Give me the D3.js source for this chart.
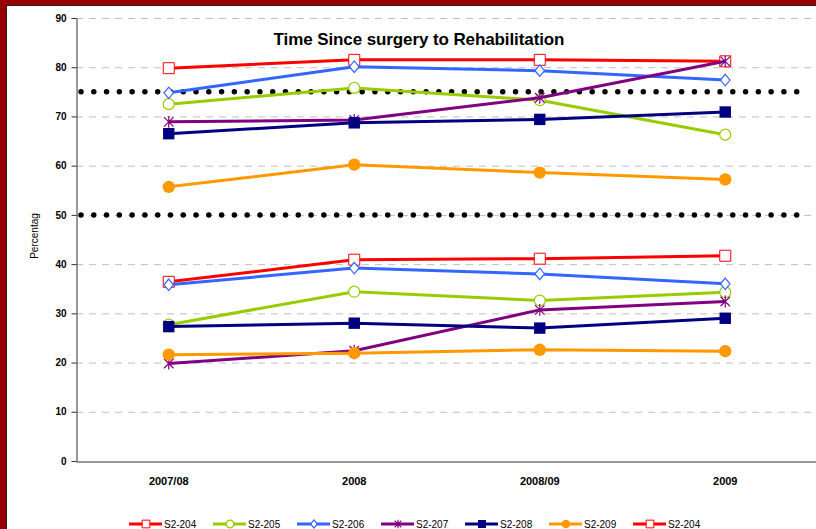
<!DOCTYPE html>
<html>
<head>
<meta charset="utf-8">
<script src="https://cdn.jsdelivr.net/npm/d3@7"></script>
<style>
  body { margin: 0; background: #fff; }
  svg { display: block; font-family: "Liberation Sans", Arial, sans-serif; }
</style>
</head>
<body>
<div id="vis"></div>
<script>
// chart values
var categories = ["2007/08", "2008", "2008/09", "2009"];
var seriesNames = ["S2-204", "S2-205", "S2-206", "S2-207", "S2-208", "S2-209"];
var seriesColors = ["#ff0000", "#99cc00", "#3366ff", "#800080", "#000080", "#ff9900"];
var seriesMarkers = ["openSquare", "openCircle", "openDiamond", "star", "square", "circle"];

// upper group
var upper204 = [79.8, 81.5, 81.5, 81.2];
var upper205 = [72.5, 75.8, 73.3, 66.3];
var upper206 = [74.8, 80.1, 79.3, 77.4];
var upper207 = [68.9, 69.3, 73.8, 81.2];
var upper208 = [66.5, 68.7, 69.4, 70.9];
var upper209 = [55.7, 60.2, 58.6, 57.2];

// lower group
var lower204 = [36.4, 40.9, 41.1, 41.7];
var lower205 = [27.7, 34.4, 32.6, 34.3];
var lower206 = [35.8, 39.2, 38.0, 36.0];
var lower207 = [19.8, 22.4, 30.7, 32.4];
var lower208 = [27.3, 28.0, 27.0, 29.0];
var lower209 = [21.6, 21.9, 22.6, 22.3];

var yTicks = [0, 10, 20, 30, 40, 50, 60, 70, 80, 90];
var refLines = [75, 50];

var width = 816, height = 529;
var margin = { top: 18, left: 76, bottom: 68, right: 0 };

var svg = d3.select("#vis").append("svg")
  .attr("width", width)
  .attr("height", height);

// frame
svg.append("rect").attr("x", 0).attr("y", 0).attr("width", width).attr("height", 5).attr("fill", "#990000");
svg.append("rect").attr("x", 0).attr("y", 0).attr("width", 6).attr("height", height).attr("fill", "#990000");
svg.append("line").attr("x1", 6.5).attr("x2", 6.5).attr("y1", 5).attr("y2", height).attr("stroke", "#222");
svg.append("line").attr("x1", 6).attr("x2", width).attr("y1", 5.5).attr("y2", 5.5).attr("stroke", "#222");

var x = d3.scaleBand().domain(categories).range([margin.left, 818]).padding(0);
var y = d3.scaleLinear().domain([0, 90]).range([461, margin.top]);
var xc = function (c) { return x(c) + x.bandwidth() / 2; };

// gridlines
svg.append("g").selectAll("line")
  .data(yTicks.filter(function (d) { return d > 0; }))
  .join("line")
  .attr("x1", margin.left).attr("x2", width)
  .attr("y1", function (d) { return y(d) + 0.5; })
  .attr("y2", function (d) { return y(d) + 0.5; })
  .attr("stroke", "#c0c0c0")
  .attr("stroke-dasharray", "7 6");

// y axis
var yAxis = svg.append("g")
  .attr("transform", "translate(" + (margin.left + 0.5) + ",0)")
  .call(d3.axisLeft(y).tickValues(yTicks).tickSize(5).tickPadding(5).tickSizeOuter(0));
yAxis.select(".domain").attr("stroke", "#333");
yAxis.selectAll(".tick line").attr("stroke", "#333");
yAxis.selectAll("text").attr("font-size", 10).attr("font-weight", "bold")
  .attr("font-family", "Liberation Sans, Arial, sans-serif").attr("fill", "#000");

// x axis
var xAxis = svg.append("g")
  .attr("transform", "translate(0," + (461.5) + ")")
  .call(d3.axisBottom(x).tickSize(0).tickPadding(16).tickSizeOuter(0));
xAxis.select(".domain").attr("stroke", "#333");
xAxis.selectAll("text").attr("font-size", 11).attr("font-weight", "bold")
  .attr("font-family", "Liberation Sans, Arial, sans-serif").attr("fill", "#000");

// dotted reference lines
svg.append("g").selectAll("line")
  .data(refLines)
  .join("line")
  .attr("x1", 81).attr("x2", 797)
  .attr("y1", function (d) { return y(d); })
  .attr("y2", function (d) { return y(d); })
  .attr("stroke", "#000")
  .attr("stroke-width", 5.5)
  .attr("stroke-linecap", "round")
  .attr("stroke-dasharray", "0 12.78");

// axis title
svg.append("text")
  .attr("transform", "translate(38,236) rotate(-90)")
  .attr("text-anchor", "middle")
  .attr("font-size", 10)
  .text("Percentag");

// chart title
svg.append("text")
  .attr("x", 419).attr("y", 45)
  .attr("text-anchor", "middle")
  .attr("font-size", 17).attr("font-weight", "bold")
  .attr("letter-spacing", -0.1)
  .text("Time Since surgery to Rehabilitation");

// marker shapes
var starSymbol = {
  draw: function (ctx, size) {
    var r = Math.sqrt(size) / 2;
    ctx.moveTo(-r, -r); ctx.lineTo(r, r);
    ctx.moveTo(-r, r); ctx.lineTo(r, -r);
    ctx.moveTo(0, -r * 1.25); ctx.lineTo(0, r * 1.25);
  }
};
var diamondSymbol = {
  draw: function (ctx, size) {
    var r = Math.sqrt(size) / 2;
    ctx.moveTo(0, -r * 1.15); ctx.lineTo(r * 0.95, 0);
    ctx.lineTo(0, r * 1.15); ctx.lineTo(-r * 0.95, 0); ctx.closePath();
  }
};

function drawMarker(sel, kind, color, scale) {
  var s = scale || 1;
  if (kind === "openSquare") {
    sel.append("path").attr("d", d3.symbol(d3.symbolSquare, 121 * s * s)())
      .attr("fill", "#fff").attr("stroke", color).attr("stroke-width", 1);
  } else if (kind === "openCircle") {
    sel.append("path").attr("d", d3.symbol(d3.symbolCircle, 95 * s * s)())
      .attr("fill", "#fff").attr("stroke", color).attr("stroke-width", 1.2);
  } else if (kind === "openDiamond") {
    sel.append("path").attr("d", d3.symbol(diamondSymbol, 100 * s * s)())
      .attr("fill", "#fff").attr("stroke", color).attr("stroke-width", 1.2);
  } else if (kind === "star") {
    sel.append("path").attr("d", d3.symbol(starSymbol, 90 * s * s)())
      .attr("fill", "none").attr("stroke", color).attr("stroke-width", 1.2);
  } else if (kind === "square") {
    sel.append("path").attr("d", d3.symbol(d3.symbolSquare, 130 * s * s)())
      .attr("fill", color);
  } else {
    sel.append("path").attr("d", d3.symbol(d3.symbolCircle, 120 * s * s)())
      .attr("fill", color);
  }
}

var upperSets = [upper204, upper205, upper206, upper207, upper208, upper209];
var lowerSets = [lower204, lower205, lower206, lower207, lower208, lower209];

var line = d3.line()
  .x(function (d, i) { return xc(categories[i]); })
  .y(function (d) { return y(d); });

function drawGroup(sets) {
  sets.forEach(function (vals, k) {
    var g = svg.append("g");
    g.append("path")
      .datum(vals)
      .attr("fill", "none")
      .attr("stroke", seriesColors[k])
      .attr("stroke-width", 3)
      .attr("stroke-linejoin", "round")
      .attr("d", line);
    vals.forEach(function (v, i) {
      var m = g.append("g").attr("transform", "translate(" + xc(categories[i]) + "," + y(v) + ")");
      drawMarker(m, seriesMarkers[k], seriesColors[k]);
    });
  });
}
drawGroup(upperSets);
drawGroup(lowerSets);

// legend: only the first row (7 entries) is visible in the window
var legendItems = seriesNames.concat(seriesNames).slice(0, 7).map(function (n, i) {
  return { name: n, color: seriesColors[i % 6], marker: seriesMarkers[i % 6] };
});
var legend = svg.append("g").selectAll("g")
  .data(legendItems)
  .join("g")
  .attr("transform", function (d, i) {
    return "translate(" + (129 + i * 84) + ",524)";
  });
legend.append("line")
  .attr("x1", 0).attr("x2", 33).attr("y1", 0).attr("y2", 0)
  .attr("stroke", function (d) { return d.color; })
  .attr("stroke-width", 3);
legend.each(function (d) {
  var m = d3.select(this).append("g").attr("transform", "translate(17,0)");
  drawMarker(m, d.marker, d.color, 0.7);
});
legend.append("text")
  .attr("x", 35).attr("y", 3.5)
  .attr("font-size", 10)
  .text(function (d) { return d.name; });
</script>
</body>
</html>
